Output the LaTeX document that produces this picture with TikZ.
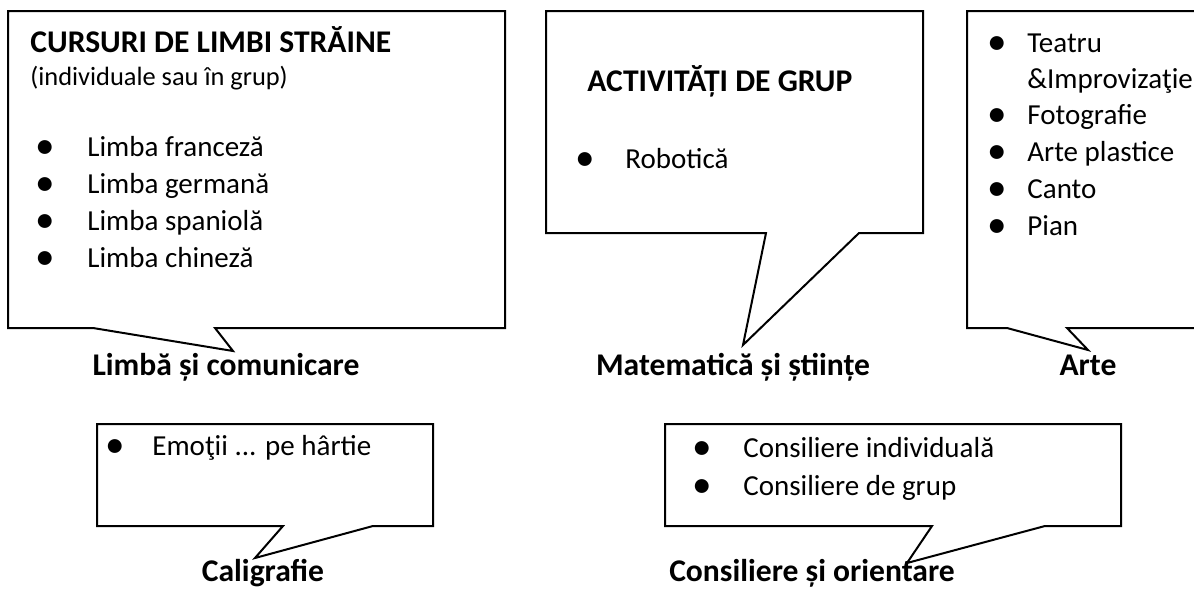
\documentclass[tikz,border=0pt]{standalone}
\usepackage{fontspec}
\setmainfont{Carlito}

% bullet, then the text at a tab stop
\newcommand{\itm}[2][24pt]{\makebox[#1][l]{\raisebox{-0.1em}{\scalebox{1.35}{•}}}#2}

\begin{document}
\begin{tikzpicture}[x=0.5pt,y=-0.5pt]
		\tikzstyle{bubble}=[line width=1pt]
		\tikzstyle{head}=[anchor=base west,inner sep=0pt,font=\bfseries\fontsize{15.8}{19}\selectfont]
		\tikzstyle{note}=[anchor=base west,inner sep=0pt,font=\fontsize{13.2}{16}\selectfont]
		\tikzstyle{item}=[anchor=base west,inner sep=0pt,font=\fontsize{14.5}{18}\selectfont]
		\tikzstyle{area}=[anchor=base,inner sep=0pt,font=\bfseries\fontsize{15.8}{19}\selectfont]

		\useasboundingbox (0,0) rectangle (1194,589);

		% Limba si comunicare
		\draw [bubble] (8,11) -- (505,11) -- (505,328) -- (215,328) -- (233,351) -- (93,328) -- (8,328) -- cycle;
		\node[head] (limbi) at (30,53) {CURSURI DE LIMBI STRĂINE};
		\node[note] (limbinote) at (30,85) {(individuale sau în grup)};
		\node[item] (franceza) at (35,156) {\itm[26pt]{Limba franceză}};
		\node[item] (germana) at (35,193) {\itm[26pt]{Limba germană}};
		\node[item] (spaniola) at (35,230) {\itm[26pt]{Limba spaniolă}};
		\node[item] (chineza) at (35,267) {\itm[26pt]{Limba chineză}};
		\node[area] (limba) at (226,375) {Limbă și comunicare};

		% Matematica si stiinte
		\draw [bubble] (546,11) -- (923,11) -- (923,233) -- (859,233) -- (743,345) -- (766,233) -- (546,233) -- cycle;
		\node[head] (grup) at (587,91) {ACTIVITĂȚI DE GRUP};
		\node[item] (robotica) at (575,168) {\itm[25pt]{Robotică}};
		\node[area] (mate) at (733,375) {Matematică și științe};

		% Arte
		\draw [bubble] (1210,11) -- (967,11) -- (967,328) -- (1007,328) -- (1088,350) -- (1067,328) -- (1210,328);
		\node[item] (teatru) at (987,52) {\itm[20pt]{Teatru}};
		\node[item] (improv) at (1027,88) {\&Improvizaţie};
		\node[item] (foto) at (987,124) {\itm[20pt]{Fotografie}};
		\node[item] (plastice) at (987,161) {\itm[20pt]{Arte plastice}};
		\node[item] (canto) at (987,198) {\itm[20pt]{Canto}};
		\node[item] (pian) at (987,235) {\itm[20pt]{Pian}};
		\node[area] (arte) at (1088,375) {Arte};

		% Caligrafie
		\draw [bubble] (97,424) -- (433,424) -- (433,526) -- (373,526) -- (255,558) -- (283,526) -- (97,526) -- cycle;
		\node[item] (emotii) at (105,455) {\itm[23.5pt]{Emoţii ... pe hârtie}};
		\node[area] (caligrafie) at (263,581) {Caligrafie};

		% Consiliere si orientare
		\draw [bubble] (665,424) -- (1121,424) -- (1121,526) -- (1045,526) -- (907,563) -- (932,526) -- (665,526) -- cycle;
		\node[item] (individuala) at (692,457) {\itm[25.5pt]{Consiliere individuală}};
		\node[item] (degrup) at (692,495) {\itm[25.5pt]{Consiliere de grup}};
		\node[area] (consiliere) at (812,581) {Consiliere și orientare};
\end{tikzpicture}
\end{document}
